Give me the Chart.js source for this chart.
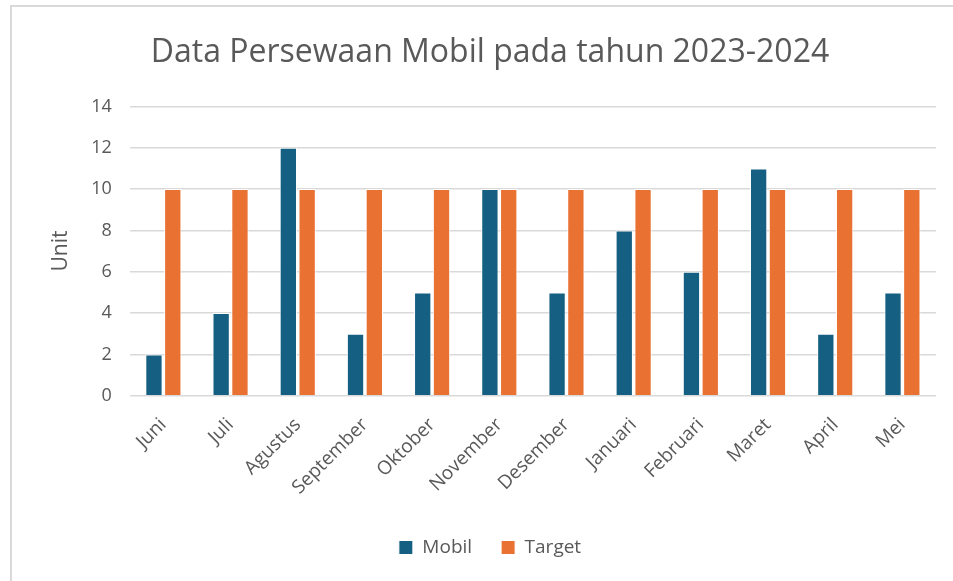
<!DOCTYPE html>
<html>
<head>
<meta charset="utf-8">
<script src="https://cdn.jsdelivr.net/npm/chart.js@4.4.1/dist/chart.umd.min.js"></script>
<style>
  body { margin: 0; background: #fff; }
  #frame { position: absolute; left: 10px; top: 5px; width: 960px; height: 600px;
           border-left: 2px solid #d9d9d9; border-top: 2px solid #d9d9d9; }
  #wrap { position: absolute; left: 0; top: 0; width: 953px; height: 581px; }
</style>
</head>
<body>
<div id="frame"></div>
<div id="wrap"><canvas id="grafik"></canvas></div>
<script>
var bulan = ['Juni', 'Juli', 'Agustus', 'September', 'Oktober', 'November', 'Desember', 'Januari', 'Februari', 'Maret', 'April', 'Mei'];
var mobil = [2, 4, 12, 3, 5, 10, 5, 8, 6, 11, 3, 5];
var target = [10, 10, 10, 10, 10, 10, 10, 10, 10, 10, 10, 10];

var teks = '#595959';
var huruf = "'Open Sans', 'Noto Sans', sans-serif";

var ctx = document.getElementById('grafik').getContext('2d');
var chartSewa = new Chart(ctx, {
    type: 'bar',
    data: {
        labels: bulan,
        datasets: [{
            label: 'Mobil',
            data: mobil,
            backgroundColor: '#156082',
            borderColor: '#ffffff',
            borderWidth: 1
        }, {
            label: 'Target',
            data: target,
            backgroundColor: '#e97132',
            borderColor: '#ffffff',
            borderWidth: 1
        }]
    },
    options: {
        responsive: true,
        maintainAspectRatio: false,
        animation: false,
        layout: { padding: { left: 44, right: 17, top: 34, bottom: 14 } },
        datasets: { bar: { categoryPercentage: 0.56, barPercentage: 0.92 } },
        plugins: {
            title: {
                display: true,
                text: 'Data Persewaan Mobil pada tahun 2023-2024',
                color: teks,
                font: { family: huruf, size: 32, weight: 'normal' },
                padding: { top: 0, bottom: 34 }
            },
            legend: {
                position: 'bottom',
                labels: {
                    color: teks,
                    font: { family: huruf, size: 19 },
                    boxWidth: 14,
                    boxHeight: 14,
                    padding: 29
                }
            },
            tooltip: { enabled: false }
        },
        scales: {
            x: {
                grid: { display: false },
                border: { display: false },
                ticks: {
                    color: teks,
                    font: { family: huruf, size: 19 },
                    minRotation: 45,
                    maxRotation: 45,
                    padding: 10
                }
            },
            y: {
                min: 0,
                max: 14,
                ticks: {
                    stepSize: 2,
                    color: teks,
                    font: { family: huruf, size: 18 },
                    padding: 18
                },
                grid: { color: '#d9d9d9', lineWidth: 1.5, drawTicks: false },
                border: { display: false },
                title: {
                    display: true,
                    text: 'Unit',
                    color: teks,
                    font: { family: huruf, size: 21 },
                    padding: { bottom: 0 }
                }
            }
        }
    }
});
</script>
</body>
</html>
